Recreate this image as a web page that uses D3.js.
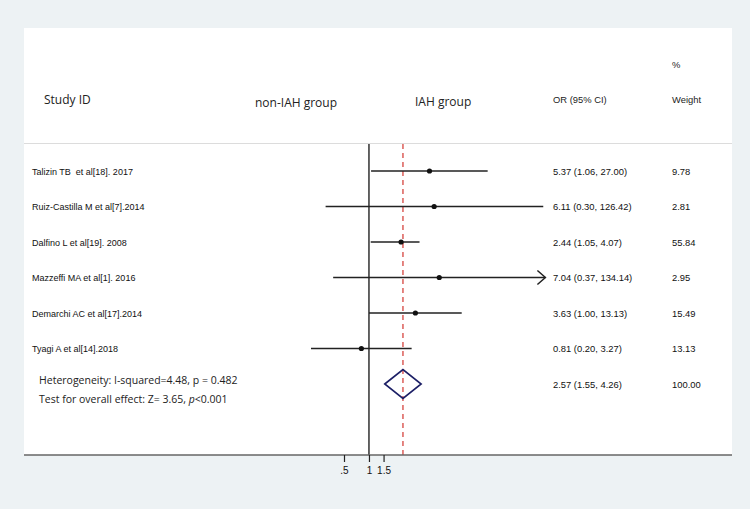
<!DOCTYPE html>
<html><head><meta charset="utf-8">
<script src="https://cdn.jsdelivr.net/npm/d3@7"></script>
<style>body{margin:0;background:#edf2f4;}svg{display:block;}text{white-space:pre;}</style>
</head><body>
<svg id="c" width="750" height="509"></svg>
<script>
const studies = ["Talizin TB  et al[18]. 2017","Ruiz-Castilla M et al[7].2014","Dalfino L et al[19]. 2008","Mazzeffi MA et al[1]. 2016","Demarchi AC et al[17].2014","Tyagi A et al[14].2018"];
const orValues = [5.37, 6.11, 2.44, 7.04, 3.63, 0.81];
const lowerCI = [1.06, 0.30, 1.05, 0.37, 1.00, 0.20];
const upperCI = [27.00, 126.42, 4.07, 134.14, 13.13, 3.27];
const weights = ["9.78","2.81","55.84","2.95","15.49","13.13"];
const arrowUpper = [false, false, false, true, false, false];
const pooled = {or: 2.57, lo: 1.55, hi: 4.26, weight: "100.00"};
const tickValues = [0.5, 1, 1.5];
const tickLabels = [".5", "1", "1.5"];

const svg = d3.select("#c");
const x = d3.scaleLog().domain([0.2, 134.14]).range([311, 545.4]);
const rows = d3.scaleLinear().domain([0, 6]).range([171, 384]);
const fmt = d3.format(".2f");
const sans = "'Liberation Sans', Arial, sans-serif";
const cal = "'Open Sans', 'Noto Sans', sans-serif";
const small = 9.4;

// white panel
svg.append("rect").attr("x",24).attr("y",28).attr("width",708).attr("height",427).attr("fill","#fff");
// separator
svg.append("line").attr("x1",24).attr("x2",732).attr("y1",143.5).attr("y2",143.5).attr("stroke","#dcdcdc").attr("stroke-width",1);

// headers
svg.append("text").attr("x",44).attr("y",104).attr("font-family",cal).attr("font-size",12).attr("fill","#222").text("Study ID");
svg.append("text").attr("x",255).attr("y",107).attr("font-family",cal).attr("font-size",12).attr("fill","#222").text("non-IAH group");
svg.append("text").attr("x",415).attr("y",106).attr("font-family",cal).attr("font-size",12).attr("fill","#222").text("IAH group");
svg.append("text").attr("x",553).attr("y",103).attr("font-family",sans).attr("font-size",small).attr("fill","#222").text("OR (95% CI)");
svg.append("text").attr("x",672).attr("y",103).attr("font-family",sans).attr("font-size",small).attr("fill","#222").text("Weight");
svg.append("text").attr("x",672).attr("y",68).attr("font-family",sans).attr("font-size",small).attr("fill","#222").text("%");

// reference lines
svg.append("line").attr("x1",x(1)).attr("x2",x(1)).attr("y1",144).attr("y2",455).attr("stroke","#111").attr("stroke-width",1.3);
svg.append("line").attr("x1",x(pooled.or)).attr("x2",x(pooled.or)).attr("y1",144).attr("y2",455)
  .attr("stroke","#d2352f").attr("stroke-width",1.2).attr("stroke-dasharray","5,4");

// study rows
const g = svg.append("g");
studies.forEach((s,i)=>{
  const y = rows(i);
  g.append("text").attr("x",32).attr("y",y+3.5).attr("font-family",sans).attr("font-size",9).attr("fill","#111").text(s);
  g.append("line").attr("x1",x(lowerCI[i])).attr("x2",x(upperCI[i])).attr("y1",y).attr("y2",y).attr("stroke","#222").attr("stroke-width",1.5);
  if (arrowUpper[i]) {
    const xe = x(upperCI[i]);
    g.append("path").attr("d",`M${xe-8},${y-7}L${xe},${y}L${xe-8},${y+7}`).attr("fill","none").attr("stroke","#222").attr("stroke-width",1.5);
  }
  g.append("circle").attr("cx",x(orValues[i])).attr("cy",y).attr("r",2.6).attr("fill","#111");
  g.append("text").attr("x",553).attr("y",y+3.5).attr("font-family",sans).attr("font-size",small).attr("fill","#111")
    .text(`${fmt(orValues[i])} (${fmt(lowerCI[i])}, ${fmt(upperCI[i])})`);
  g.append("text").attr("x",672).attr("y",y+3.5).attr("font-family",sans).attr("font-size",small).attr("fill","#111").text(weights[i]);
});

// pooled diamond
const py = rows(6);
svg.append("path").attr("d",`M${x(pooled.lo)},${py}L${x(pooled.or)},${py-14.5}L${x(pooled.hi)},${py}L${x(pooled.or)},${py+14.5}Z`)
  .attr("fill","none").attr("stroke","#1c1f66").attr("stroke-width",1.6);
svg.append("text").attr("x",553).attr("y",py+3.5).attr("font-family",sans).attr("font-size",small).attr("fill","#111")
  .text(`${fmt(pooled.or)} (${fmt(pooled.lo)}, ${fmt(pooled.hi)})`);
svg.append("text").attr("x",672).attr("y",py+3.5).attr("font-family",sans).attr("font-size",small).attr("fill","#111").text(pooled.weight);

svg.append("text").attr("x",39).attr("y",384).attr("font-family",cal).attr("font-size",10.5).attr("fill","#222").text("Heterogeneity: I-squared=4.48, p = 0.482");
const t2 = svg.append("text").attr("x",39).attr("y",403).attr("font-family",cal).attr("font-size",10.5).attr("fill","#222");
t2.append("tspan").text("Test for overall effect: Z= 3.65, ");
t2.append("tspan").attr("font-style","italic").text("p");
t2.append("tspan").text("<0.001");

// axis
svg.append("line").attr("x1",24).attr("x2",732).attr("y1",455).attr("y2",455).attr("stroke","#666").attr("stroke-width",1.6);
const axis = d3.axisBottom(x).tickValues(tickValues).tickFormat((d,i)=>tickLabels[i]).tickSize(7).tickSizeOuter(0);
const ag = svg.append("g").attr("transform","translate(0,455)").call(axis);
ag.select(".domain").remove();
ag.selectAll(".tick line").attr("stroke","#222").attr("stroke-width",1.2);
ag.selectAll(".tick text").attr("font-family",sans).attr("font-size",10).attr("fill","#111").attr("dy","0.9em");
</script>
</body></html>
